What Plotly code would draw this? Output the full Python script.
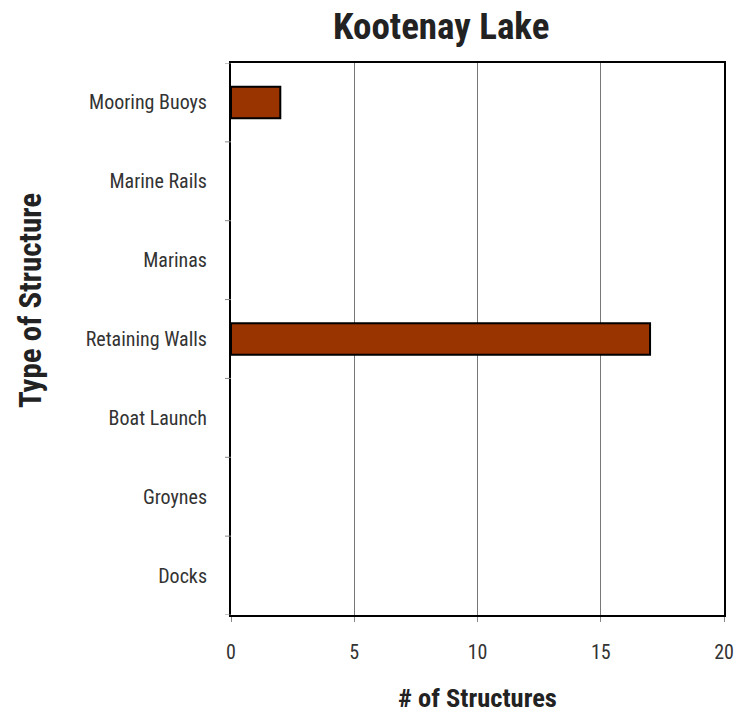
import plotly.graph_objects as go

categories = ["Docks", "Groynes", "Boat Launch", "Retaining Walls", "Marinas", "Marine Rails", "Mooring Buoys"]
counts = [0, 0, 0, 17, 0, 0, 2]
x_ticks = [0, 5, 10, 15, 20]

W, H = 737, 713
L, R, T, B = 231, 13, 63, 98
PW, PH = W - L - R, H - T - B


def px_x(px):
    return (px - L) / PW


def px_y(py):
    return (H - B - py) / PH


FONT = "Roboto Condensed, Arial Narrow, Liberation Sans Narrow, Arial"
tick_font = dict(family=FONT, size=20, color="#333333")
title_font = dict(family=FONT, size=37, color="#222222", weight="bold")
xtitle_font = dict(family=FONT, size=26.5, color="#222222", weight="bold")
ytitle_font = dict(family=FONT, size=31, color="#222222", weight="bold")

fig = go.Figure()
fig.add_trace(go.Bar(
    y=categories, x=counts, orientation="h",
    marker=dict(color="#993300",
                line=dict(color="black", width=[2 if v > 0 else 0 for v in counts])),
    width=0.4,
))

fig.update_layout(
    width=W, height=H,
    margin=dict(l=L, r=R, t=T, b=B, autoexpand=False),
    plot_bgcolor="white", paper_bgcolor="white",
    showlegend=False,
    xaxis=dict(
        range=[0, 20], tickvals=x_ticks, ticks="outside", ticklen=5, tickcolor="#888888",
        showgrid=True, gridcolor="#777777", gridwidth=1,
        showline=True, linecolor="black", linewidth=2, mirror=True,
        zeroline=False, tickfont=tick_font, ticklabelstandoff=13, automargin=False,
    ),
    yaxis=dict(
        categoryorder="array", categoryarray=categories,
        range=[-0.5, 6.5],
        ticks="", showgrid=False,
        showline=True, linecolor="black", linewidth=2, mirror=True,
        zeroline=False, tickfont=tick_font, ticklabelstandoff=18, automargin=False,
    ),
    annotations=[
        dict(text="Kootenay Lake", x=px_x(441), y=px_y(26), xref="paper", yref="paper",
             showarrow=False, font=title_font, yanchor="middle", xanchor="center"),
        dict(text="# of Structures", x=px_x(477), y=px_y(697), xref="paper", yref="paper",
             showarrow=False, font=xtitle_font, yanchor="middle", xanchor="center"),
        dict(text="Type of Structure", x=px_x(30), y=px_y(301), xref="paper", yref="paper",
             showarrow=False, textangle=-90, font=ytitle_font, yanchor="middle", xanchor="center"),
    ],
)

# outside tick marks on the category axis sit on the band boundaries
for i in range(len(categories) + 1):
    fig.add_shape(type="line", xref="paper", yref="y",
                  x0=px_x(L - 6), x1=0, y0=i - 0.5, y1=i - 0.5,
                  line=dict(color="#888888", width=1))

fig.write_html("out.html")
